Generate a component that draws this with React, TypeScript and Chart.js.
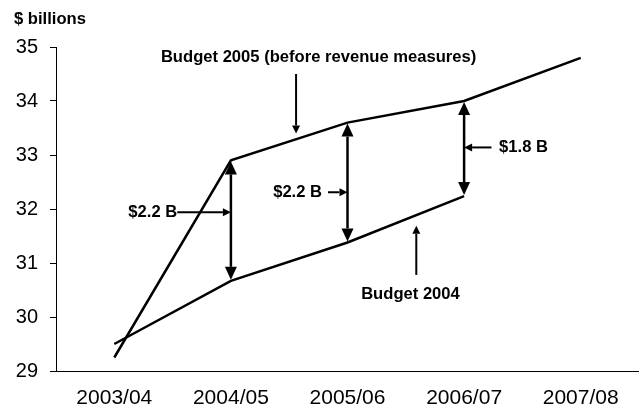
import React, { useEffect, useRef } from 'react';
import { Chart, registerables } from 'chart.js';

Chart.register(...registerables);

const categories = ['2003/04', '2004/05', '2005/06', '2006/07', '2007/08'];
const budget2005 = [29.25, 32.9, 33.6, 34.0, 34.8];
const budget2004 = [29.5, 30.67, 31.38, 32.24, null];
const yTicks = [29, 30, 31, 32, 33, 34, 35];

// category indices where the double-headed gap arrows are drawn
const gapIndices = [1, 2, 3];

// callouts anchored in data space (category index, value)
const calloutText = ['$2.2 B', '$2.2 B', '$1.8 B', 'Budget 2005 (before revenue measures)', 'Budget 2004'];
const calloutAt = [[0.33, 31.94], [1.572, 32.31], [3.51, 33.14], [1.752, 34.81], [2.54, 30.41]];
const pointerFrom = [[0.54, 31.94], [1.833, 32.31], [3.235, 33.14], [1.559, 34.5], [2.59, 30.78]];
const pointerTo = [[1, 31.94], [2, 32.31], [3, 33.14], [1.559, 33.4], [2.59, 31.69]];

const FONT = '"Liberation Sans", Arial, Helvetica, sans-serif';

function arrowHead(ctx: CanvasRenderingContext2D, x1: number, y1: number, x2: number, y2: number, len: number, w: number) {
  const a = Math.atan2(y2 - y1, x2 - x1);
  const bx = x2 - len * Math.cos(a);
  const by = y2 - len * Math.sin(a);
  const nx = -Math.sin(a) * w / 2;
  const ny = Math.cos(a) * w / 2;
  ctx.beginPath();
  ctx.moveTo(x2, y2);
  ctx.lineTo(bx + nx, by + ny);
  ctx.lineTo(bx - nx, by - ny);
  ctx.closePath();
  ctx.fill();
  return [bx, by];
}

function arrow(ctx: CanvasRenderingContext2D, x1: number, y1: number, x2: number, y2: number, len: number, w: number, lw: number, both: boolean) {
  let sx = x1, sy = y1;
  if (both) {
    const r = arrowHead(ctx, x2, y2, x1, y1, len, w);
    sx = r[0]; sy = r[1];
  }
  const e = arrowHead(ctx, x1, y1, x2, y2, len, w);
  ctx.lineWidth = lw;
  ctx.beginPath();
  ctx.moveTo(sx, sy);
  ctx.lineTo(e[0], e[1]);
  ctx.stroke();
}

const annotPlugin = {
  id: 'annot',
  afterDatasetsDraw(chart: any) {
    const { ctx, scales, chartArea } = chart;
    const xs = scales.x;
    const ys = scales.y;
    ctx.save();
    ctx.fillStyle = '#000';
    ctx.strokeStyle = '#000';
    ctx.lineCap = 'butt';
    // gap arrows
    gapIndices.forEach((i) => {
      const x = xs.getPixelForValue(i);
      const yTop = ys.getPixelForValue(budget2005[i] as number) + 1;
      const yBot = ys.getPixelForValue(budget2004[i] as number) - 1;
      arrow(ctx, x, yTop, x, yBot, 13, 12, 2.5, true);
    });
    // pointers + labels
    ctx.font = `bold 16.6px ${FONT}`;
    ctx.textAlign = 'center';
    ctx.textBaseline = 'middle';
    calloutText.forEach((t, k) => {
      const tx = xs.getPixelForValue(calloutAt[k][0]);
      const ty = ys.getPixelForValue(calloutAt[k][1]);
      ctx.fillText(t, tx, ty);
      const fx = xs.getPixelForValue(pointerFrom[k][0]);
      const fy = ys.getPixelForValue(pointerFrom[k][1]);
      const ex = xs.getPixelForValue(pointerTo[k][0]);
      const ey = ys.getPixelForValue(pointerTo[k][1]);
      arrow(ctx, fx, fy, ex, ey, 8, 8, 2, false);
    });
    // unit label
    ctx.textAlign = 'left';
    ctx.fillText('$ billions', chartArea.left - 42, chartArea.top - 28);
    ctx.restore();
  },
};

export default function App() {
  const ref = useRef<HTMLCanvasElement | null>(null);
  useEffect(() => {
    document.body.style.margin = '0';
    const canvas = ref.current;
    if (!canvas) return;
    const chart = new Chart(canvas, {
      type: 'line',
      data: {
        labels: categories,
        datasets: [
          {
            label: 'Budget 2005 (before revenue measures)',
            data: budget2005,
            borderColor: '#000',
            borderWidth: 2.5,
            pointRadius: 0,
            tension: 0,
            fill: false,
          },
          {
            label: 'Budget 2004',
            data: budget2004,
            borderColor: '#000',
            borderWidth: 2.5,
            pointRadius: 0,
            tension: 0,
            fill: false,
          },
        ],
      },
      options: {
        animation: false,
        responsive: false,
        maintainAspectRatio: false,
        devicePixelRatio: 1,
        layout: { padding: { top: 47, right: 0, bottom: 0, left: 0 } },
        plugins: {
          legend: { display: false },
          tooltip: { enabled: false },
          title: { display: false },
        },
        scales: {
          x: {
            type: 'category',
            offset: true,
            grid: { display: true, drawOnChartArea: false, drawTicks: false },
            border: { display: true, color: '#000', width: 1 },
            ticks: { color: '#000', font: { family: FONT, size: 21 }, padding: 15, maxRotation: 0 },
            afterFit: (s: any) => { s.height = 39; },
          },
          y: {
            type: 'linear',
            min: yTicks[0],
            max: yTicks[yTicks.length - 1],
            afterBuildTicks: (s: any) => { s.ticks = yTicks.map((v) => ({ value: v })); },
            grid: { display: true, drawOnChartArea: false, drawTicks: true, tickLength: 6, color: '#000', lineWidth: 1 },
            border: { display: true, color: '#000', width: 1 },
            ticks: { color: '#000', font: { family: FONT, size: 20 }, padding: 12 },
            afterFit: (s: any) => { s.width = 56; },
          },
        },
      },
      plugins: [annotPlugin],
    } as any);
    return () => chart.destroy();
  }, []);
  return <canvas ref={ref} width={639} height={410} style={{ display: 'block', width: 639, height: 410 }} />;
}
